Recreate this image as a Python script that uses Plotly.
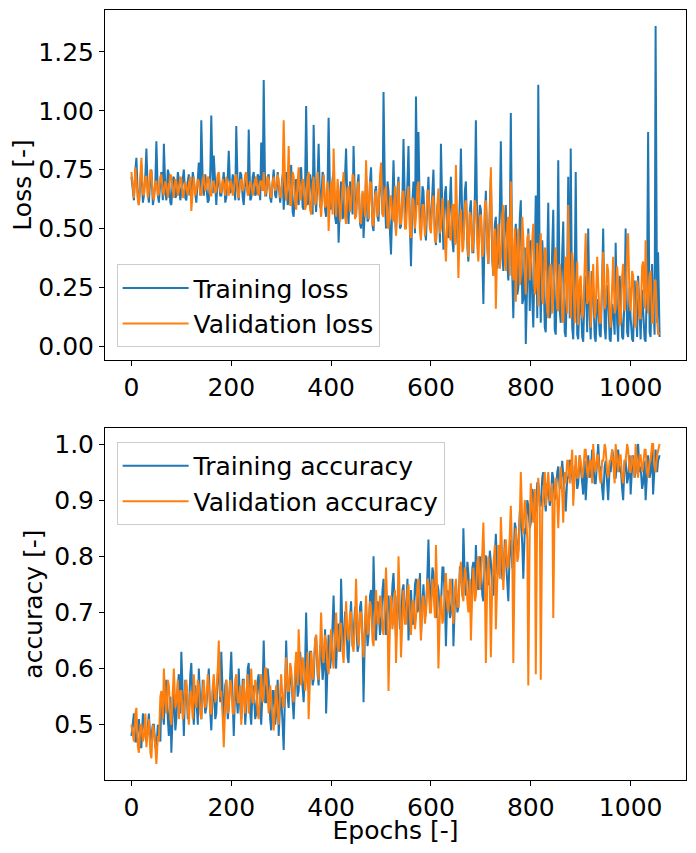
import plotly.graph_objects as go
from plotly.subplots import make_subplots

epochs = sorted(list(range(0, 1060, 5)) + list(range(3, 1060, 5)))

train_loss = [
    0.72, 0.66, 0.62, 0.75, 0.80, 0.63, 0.60, 0.70, 0.77, 0.61, 0.64, 0.73, 0.84, 0.65, 0.61, 0.72, 0.75, 0.60, 0.63, 0.70,
    0.87, 0.64, 0.61, 0.70, 0.74, 0.62, 0.86, 0.66, 0.62, 0.75, 0.73, 0.61, 0.60, 0.71, 0.72, 0.63, 0.64, 0.74, 0.71, 0.62,
    0.66, 0.72, 0.75, 0.63, 0.62, 0.70, 0.73, 0.64, 0.65, 0.74, 0.70, 0.62, 0.61, 0.71, 0.78, 0.64, 0.96, 0.68, 0.64, 0.73,
    0.67, 0.61, 0.62, 0.74, 0.98, 0.65, 0.81, 0.63, 0.60, 0.72, 0.72, 0.64, 0.64, 0.70, 0.74, 0.61, 0.63, 0.72, 0.83, 0.65,
    0.66, 0.73, 0.70, 0.62, 0.935, 0.66, 0.62, 0.74, 0.73, 0.63, 0.60, 0.71, 0.71, 0.65, 0.92, 0.62, 0.63, 0.72, 0.74, 0.64,
    0.65, 0.73, 0.72, 0.62, 0.865, 0.66, 1.13, 0.64, 0.64, 0.72, 0.73, 0.63, 0.61, 0.70, 0.75, 0.64, 0.63, 0.74, 0.70, 0.61,
    0.66, 0.73, 0.58, 0.70, 0.74, 0.60, 0.62, 0.72, 0.77, 0.57, 0.55, 0.68, 0.71, 0.62, 0.60, 0.75, 0.76, 0.59, 0.58, 0.70,
    1.02, 0.60, 0.62, 0.73, 0.70, 0.56, 0.94, 0.64, 0.57, 0.72, 0.86, 0.59, 0.60, 0.74, 0.72, 0.58, 0.55, 0.69, 0.97, 0.62,
    0.58, 0.71, 0.74, 0.55, 0.52, 0.66, 0.44, 0.62, 0.70, 0.54, 0.56, 0.73, 0.84, 0.58, 0.52, 0.70, 0.68, 0.56, 0.85, 0.60,
    0.55, 0.69, 0.73, 0.52, 0.50, 0.65, 0.46, 0.60, 0.72, 0.53, 0.54, 0.70, 0.76, 0.51, 0.49, 0.66, 0.68, 0.55, 0.53, 0.71,
    0.74, 0.56, 1.08, 0.62, 0.50, 0.70, 0.66, 0.48, 0.39, 0.63, 0.79, 0.55, 0.48, 0.67, 0.72, 0.50, 0.51, 0.64, 0.88, 0.58,
    0.55, 0.70, 0.85, 0.50, 0.34, 0.62, 0.70, 0.48, 1.06, 0.60, 0.91, 0.52, 0.47, 0.68, 0.66, 0.49, 0.45, 0.63, 0.72, 0.50,
    0.52, 0.66, 0.75, 0.47, 0.43, 0.60, 0.62, 0.44, 0.86, 0.56, 0.41, 0.65, 0.68, 0.48, 0.46, 0.62, 0.72, 0.45, 0.40, 0.58,
    0.60, 0.44, 0.42, 0.63, 0.84, 0.50, 0.45, 0.66, 0.70, 0.42, 0.36, 0.58, 0.62, 0.40, 0.40, 0.64, 0.96, 0.45, 0.47, 0.60,
    0.58, 0.38, 0.18, 0.55, 0.66, 0.42, 0.35, 0.60, 0.72, 0.36, 0.30, 0.52, 0.55, 0.33, 0.37, 0.58, 0.87, 0.40, 0.32, 0.55,
    0.60, 0.35, 0.28, 0.50, 0.99, 0.30, 0.12, 0.45, 0.52, 0.22, 0.25, 0.55, 0.62, 0.18, 0.20, 0.42, 0.01, 0.30, 0.50, 0.15,
    0.45, 0.20, 0.08, 0.40, 0.64, 0.12, 1.11, 0.30, 0.10, 0.45, 0.35, 0.08, 0.06, 0.38, 0.61, 0.12, 0.15, 0.42, 0.58, 0.07,
    0.05, 0.35, 0.79, 0.15, 0.10, 0.40, 0.53, 0.06, 0.04, 0.30, 0.72, 0.12, 0.84, 0.08, 0.03, 0.28, 0.74, 0.05, 0.03, 0.22,
    0.20, 0.04, 0.02, 0.25, 0.30, 0.06, 0.50, 0.12, 0.03, 0.32, 0.25, 0.04, 0.02, 0.20, 0.18, 0.05, 0.04, 0.28, 0.50, 0.08,
    0.03, 0.26, 0.22, 0.03, 0.02, 0.18, 0.15, 0.05, 0.44, 0.10, 0.02, 0.30, 0.20, 0.04, 0.03, 0.22, 0.50, 0.06, 0.04, 0.25,
    0.12, 0.03, 0.02, 0.28, 0.18, 0.04, 0.30, 0.08, 0.03, 0.24, 0.15, 0.03, 0.02, 0.30, 0.91, 0.06, 0.04, 0.35, 0.20, 0.05,
    1.36, 0.10, 0.40, 0.04,
]

val_loss = [
    0.74, 0.66, 0.63, 0.76, 0.70, 0.62, 0.60, 0.71, 0.80, 0.65, 0.64, 0.72, 0.72, 0.63, 0.66, 0.75, 0.74, 0.64, 0.62, 0.70,
    0.70, 0.64, 0.65, 0.72, 0.73, 0.66, 0.64, 0.70, 0.69, 0.63, 0.67, 0.73, 0.72, 0.65, 0.63, 0.71, 0.70, 0.64, 0.66, 0.72,
    0.71, 0.63, 0.65, 0.70, 0.68, 0.64, 0.69, 0.72, 0.575, 0.66, 0.72, 0.64, 0.66, 0.71, 0.70, 0.65, 0.64, 0.70, 0.73, 0.66,
    0.67, 0.72, 0.71, 0.64, 0.64, 0.70, 0.70, 0.65, 0.66, 0.73, 0.74, 0.66, 0.65, 0.71, 0.69, 0.64, 0.72, 0.67, 0.64, 0.70,
    0.70, 0.64, 0.66, 0.72, 0.73, 0.65, 0.63, 0.70, 0.71, 0.66, 0.67, 0.73, 0.74, 0.64, 0.65, 0.70, 0.69, 0.64, 0.66, 0.71,
    0.72, 0.65, 0.64, 0.70, 0.70, 0.66, 0.74, 0.64, 0.66, 0.72, 0.71, 0.65, 0.63, 0.70, 0.72, 0.66, 0.67, 0.73, 0.70, 0.63,
    0.64, 0.72, 0.96, 0.66, 0.62, 0.70, 0.85, 0.60, 0.60, 0.74, 0.72, 0.61, 0.58, 0.70, 0.76, 0.62, 0.63, 0.71, 0.70, 0.58,
    0.60, 0.72, 0.74, 0.58, 0.56, 0.68, 0.72, 0.60, 0.62, 0.74, 0.68, 0.57, 0.55, 0.66, 0.73, 0.59, 0.60, 0.70, 0.49, 0.64,
    0.70, 0.56, 0.84, 0.62, 0.55, 0.71, 0.66, 0.53, 0.58, 0.68, 0.74, 0.55, 0.52, 0.67, 0.68, 0.57, 0.60, 0.73, 0.72, 0.54,
    0.56, 0.68, 0.70, 0.53, 0.52, 0.66, 0.64, 0.55, 0.79, 0.60, 0.54, 0.70, 0.69, 0.52, 0.51, 0.64, 0.66, 0.55, 0.58, 0.72,
    0.78, 0.56, 0.55, 0.66, 0.68, 0.51, 0.50, 0.63, 0.64, 0.54, 0.53, 0.68, 0.47, 0.60, 0.70, 0.52, 0.52, 0.65, 0.66, 0.50,
    0.50, 0.64, 0.68, 0.48, 0.46, 0.63, 0.62, 0.50, 0.55, 0.68, 0.70, 0.49, 0.45, 0.60, 0.60, 0.47, 0.52, 0.66, 0.66, 0.50,
    0.48, 0.62, 0.64, 0.45, 0.44, 0.60, 0.67, 0.48, 0.50, 0.63, 0.58, 0.44, 0.36, 0.56, 0.62, 0.46, 0.45, 0.60, 0.60, 0.43,
    0.77, 0.50, 0.29, 0.54, 0.58, 0.40, 0.42, 0.60, 0.62, 0.45, 0.38, 0.57, 0.55, 0.40, 0.44, 0.62, 0.60, 0.42, 0.36, 0.55,
    0.56, 0.38, 0.40, 0.60, 0.62, 0.42, 0.35, 0.55, 0.76, 0.40, 0.30, 0.50, 0.16, 0.45, 0.52, 0.33, 0.38, 0.56, 0.60, 0.36,
    0.32, 0.52, 0.55, 0.30, 0.70, 0.40, 0.28, 0.50, 0.19, 0.42, 0.50, 0.26, 0.30, 0.55, 0.45, 0.25, 0.22, 0.46, 0.48, 0.28,
    0.35, 0.50, 0.52, 0.22, 0.25, 0.44, 0.17, 0.40, 0.48, 0.20, 0.18, 0.42, 0.40, 0.15, 0.12, 0.33, 0.35, 0.14, 0.20, 0.38,
    0.42, 0.16, 0.15, 0.35, 0.30, 0.12, 0.10, 0.32, 0.38, 0.14, 0.60, 0.25, 0.12, 0.40, 0.35, 0.10, 0.20, 0.36, 0.09, 0.28,
    0.30, 0.12, 0.14, 0.34, 0.48, 0.18, 0.20, 0.32, 0.08, 0.26, 0.35, 0.12, 0.15, 0.38, 0.28, 0.10, 0.10, 0.30, 0.40, 0.16,
    0.18, 0.35, 0.32, 0.12, 0.08, 0.26, 0.38, 0.14, 0.16, 0.34, 0.27, 0.09, 0.10, 0.30, 0.35, 0.15, 0.20, 0.40, 0.48, 0.18,
    0.15, 0.32, 0.30, 0.10, 0.08, 0.28, 0.25, 0.12, 0.12, 0.34, 0.36, 0.16, 0.45, 0.20, 0.14, 0.30, 0.32, 0.10, 0.10, 0.28,
    0.28, 0.12, 0.05, 0.06,
]

train_acc = [
    0.48, 0.51, 0.52, 0.47, 0.47, 0.50, 0.51, 0.46, 0.46, 0.52, 0.50, 0.48, 0.47, 0.51, 0.52, 0.47, 0.48, 0.50, 0.50, 0.46,
    0.46, 0.50, 0.49, 0.47, 0.55, 0.52, 0.50, 0.57, 0.58, 0.51, 0.48, 0.55, 0.45, 0.53, 0.56, 0.49, 0.51, 0.57, 0.59, 0.52,
    0.63, 0.55, 0.48, 0.58, 0.57, 0.51, 0.52, 0.59, 0.61, 0.53, 0.50, 0.57, 0.55, 0.50, 0.60, 0.54, 0.51, 0.58, 0.56, 0.52,
    0.53, 0.58, 0.60, 0.52, 0.49, 0.56, 0.57, 0.51, 0.52, 0.59, 0.61, 0.54, 0.63, 0.55, 0.50, 0.57, 0.58, 0.51, 0.53, 0.59,
    0.63, 0.54, 0.48, 0.57, 0.56, 0.52, 0.60, 0.53, 0.51, 0.58, 0.58, 0.50, 0.53, 0.60, 0.61, 0.52, 0.50, 0.57, 0.56, 0.51,
    0.52, 0.58, 0.59, 0.53, 0.50, 0.57, 0.65, 0.54, 0.54, 0.60, 0.58, 0.51, 0.49, 0.56, 0.56, 0.50, 0.52, 0.58, 0.48, 0.54,
    0.55, 0.50, 0.455, 0.57, 0.65, 0.55, 0.53, 0.60, 0.59, 0.54, 0.51, 0.58, 0.62, 0.55, 0.56, 0.63, 0.60, 0.55, 0.54, 0.61,
    0.70, 0.58, 0.56, 0.63, 0.63, 0.57, 0.58, 0.65, 0.66, 0.59, 0.57, 0.64, 0.64, 0.58, 0.60, 0.67, 0.52, 0.61, 0.66, 0.60,
    0.62, 0.68, 0.73, 0.62, 0.60, 0.67, 0.68, 0.63, 0.76, 0.66, 0.63, 0.70, 0.70, 0.62, 0.61, 0.69, 0.72, 0.64, 0.66, 0.71,
    0.69, 0.63, 0.64, 0.71, 0.72, 0.65, 0.54, 0.68, 0.70, 0.64, 0.66, 0.73, 0.74, 0.67, 0.80, 0.69, 0.65, 0.72, 0.71, 0.66,
    0.68, 0.74, 0.76, 0.69, 0.66, 0.72, 0.73, 0.67, 0.69, 0.75, 0.77, 0.70, 0.65, 0.73, 0.72, 0.67, 0.68, 0.74, 0.75, 0.69,
    0.70, 0.76, 0.65, 0.71, 0.74, 0.68, 0.68, 0.75, 0.76, 0.70, 0.71, 0.77, 0.66, 0.72, 0.75, 0.69, 0.70, 0.77, 0.83, 0.72,
    0.72, 0.78, 0.77, 0.71, 0.69, 0.75, 0.74, 0.70, 0.71, 0.78, 0.78, 0.72, 0.64, 0.74, 0.73, 0.69, 0.70, 0.76, 0.64, 0.72,
    0.75, 0.70, 0.71, 0.78, 0.78, 0.73, 0.85, 0.75, 0.73, 0.79, 0.77, 0.72, 0.70, 0.78, 0.79, 0.74, 0.82, 0.75, 0.74, 0.80,
    0.78, 0.73, 0.72, 0.80, 0.80, 0.75, 0.75, 0.81, 0.79, 0.74, 0.73, 0.80, 0.84, 0.77, 0.77, 0.82, 0.81, 0.76, 0.76, 0.83,
    0.80, 0.76, 0.72, 0.82, 0.83, 0.78, 0.78, 0.86, 0.85, 0.80, 0.81, 0.88, 0.87, 0.82, 0.76, 0.85, 0.84, 0.90, 0.89, 0.85,
    0.86, 0.92, 0.91, 0.87, 0.88, 0.93, 0.93, 0.89, 0.89, 0.94, 0.95, 0.90, 0.88, 0.93, 0.92, 0.89, 0.90, 0.95, 0.94, 0.90,
    0.91, 0.95, 0.96, 0.92, 0.93, 0.97, 0.95, 0.91, 0.88, 0.94, 0.94, 0.97, 0.97, 0.93, 0.92, 0.96, 0.96, 0.92, 0.93, 0.98,
    0.96, 0.93, 0.91, 0.97, 0.90, 0.95, 0.98, 0.94, 0.95, 0.99, 0.97, 0.93, 0.93, 0.97, 1.00, 0.95, 0.96, 0.92, 0.90, 0.96,
    0.97, 0.93, 0.90, 0.96, 0.95, 0.99, 0.98, 0.94, 0.94, 0.97, 0.99, 0.95, 0.96, 0.92, 0.90, 0.97, 0.97, 0.93, 0.94, 0.98,
    0.91, 0.96, 0.98, 0.94, 0.95, 0.99, 1.00, 0.95, 0.96, 0.92, 0.93, 0.97, 0.90, 0.95, 0.98, 0.94, 0.95, 0.99, 0.91, 0.96,
    0.99, 0.95, 0.97, 0.98,
]

val_acc = [
    0.50, 0.48, 0.47, 0.52, 0.53, 0.46, 0.45, 0.50, 0.50, 0.47, 0.48, 0.52, 0.46, 0.49, 0.51, 0.45, 0.44, 0.50, 0.49, 0.46,
    0.43, 0.48, 0.47, 0.55, 0.56, 0.51, 0.60, 0.54, 0.52, 0.58, 0.57, 0.51, 0.50, 0.56, 0.60, 0.53, 0.54, 0.58, 0.51, 0.56,
    0.56, 0.51, 0.52, 0.57, 0.58, 0.53, 0.50, 0.56, 0.55, 0.51, 0.59, 0.54, 0.53, 0.58, 0.57, 0.52, 0.51, 0.56, 0.58, 0.53,
    0.54, 0.59, 0.57, 0.52, 0.52, 0.57, 0.59, 0.54, 0.55, 0.60, 0.65, 0.55, 0.56, 0.51, 0.46, 0.54, 0.58, 0.52, 0.53, 0.58,
    0.57, 0.52, 0.52, 0.58, 0.59, 0.54, 0.54, 0.57, 0.50, 0.55, 0.58, 0.52, 0.55, 0.59, 0.52, 0.56, 0.60, 0.54, 0.54, 0.58,
    0.57, 0.52, 0.51, 0.56, 0.59, 0.54, 0.55, 0.60, 0.60, 0.55, 0.52, 0.57, 0.55, 0.51, 0.49, 0.54, 0.57, 0.52, 0.50, 0.56,
    0.59, 0.54, 0.53, 0.58, 0.62, 0.56, 0.56, 0.61, 0.60, 0.55, 0.54, 0.60, 0.63, 0.57, 0.67, 0.60, 0.57, 0.62, 0.61, 0.56,
    0.58, 0.63, 0.51, 0.59, 0.63, 0.58, 0.60, 0.65, 0.66, 0.60, 0.58, 0.64, 0.70, 0.62, 0.61, 0.66, 0.65, 0.60, 0.59, 0.64,
    0.67, 0.62, 0.60, 0.66, 0.70, 0.64, 0.63, 0.68, 0.68, 0.63, 0.61, 0.67, 0.72, 0.66, 0.65, 0.70, 0.70, 0.64, 0.63, 0.69,
    0.76, 0.66, 0.64, 0.70, 0.70, 0.65, 0.62, 0.69, 0.73, 0.66, 0.67, 0.72, 0.71, 0.65, 0.64, 0.70, 0.74, 0.68, 0.68, 0.73,
    0.72, 0.67, 0.66, 0.72, 0.78, 0.70, 0.56, 0.68, 0.73, 0.67, 0.69, 0.74, 0.61, 0.70, 0.80, 0.71, 0.62, 0.69, 0.74, 0.68,
    0.68, 0.74, 0.75, 0.69, 0.66, 0.72, 0.72, 0.67, 0.69, 0.75, 0.76, 0.70, 0.65, 0.72, 0.73, 0.68, 0.70, 0.76, 0.75, 0.70,
    0.70, 0.76, 0.74, 0.69, 0.82, 0.72, 0.60, 0.70, 0.73, 0.68, 0.69, 0.75, 0.77, 0.71, 0.70, 0.76, 0.75, 0.70, 0.68, 0.74,
    0.76, 0.71, 0.71, 0.77, 0.79, 0.73, 0.72, 0.78, 0.77, 0.72, 0.70, 0.76, 0.65, 0.74, 0.78, 0.72, 0.73, 0.79, 0.80, 0.74,
    0.76, 0.81, 0.86, 0.75, 0.61, 0.77, 0.80, 0.74, 0.62, 0.76, 0.78, 0.82, 0.67, 0.79, 0.82, 0.76, 0.87, 0.80, 0.74, 0.81,
    0.83, 0.78, 0.78, 0.84, 0.89, 0.80, 0.61, 0.82, 0.85, 0.79, 0.80, 0.87, 0.95, 0.86, 0.84, 0.90, 0.88, 0.83, 0.57, 0.86,
    0.93, 0.88, 0.86, 0.92, 0.59, 0.90, 0.94, 0.89, 0.58, 0.88, 0.92, 0.95, 0.89, 0.94, 0.95, 0.90, 0.90, 0.93, 0.69, 0.91,
    0.94, 0.90, 0.85, 0.93, 0.96, 0.91, 0.86, 0.95, 0.93, 0.97, 0.97, 0.93, 0.95, 0.99, 0.89, 0.95, 0.98, 0.94, 0.94, 0.98,
    0.97, 0.94, 0.95, 0.99, 0.99, 0.95, 0.94, 0.97, 0.97, 0.93, 1.00, 0.96, 0.95, 0.98, 0.98, 0.94, 0.93, 0.97, 0.97, 1.00,
    0.99, 0.95, 0.94, 0.97, 0.97, 0.99, 0.96, 0.93, 1.00, 0.96, 0.95, 0.98, 0.98, 0.94, 0.93, 0.97, 0.97, 1.00, 0.99, 0.95,
    0.95, 0.98, 0.97, 0.94, 1.00, 0.96, 0.94, 0.98, 0.98, 0.95, 0.96, 0.99, 0.99, 0.95, 0.94, 0.97, 0.97, 1.00, 1.00, 0.96,
    0.95, 0.98, 0.99, 1.00,
]

blue = "#1f77b4"
orange = "#ff7f0e"
font_family = "DejaVu Sans"


def padded_range(values, frac=0.05):
    # matplotlib style auto margins
    lo, hi = min(values), max(values)
    span = hi - lo
    return [lo - frac * span, hi + frac * span]


fig = make_subplots(rows=2, cols=1)

fig.add_trace(go.Scatter(x=epochs, y=train_loss, mode="lines", name="Training loss",
                         line=dict(color=blue, width=2), legend="legend"), row=1, col=1)
fig.add_trace(go.Scatter(x=epochs, y=val_loss, mode="lines", name="Validation loss",
                         line=dict(color=orange, width=2), legend="legend"), row=1, col=1)
fig.add_trace(go.Scatter(x=epochs, y=train_acc, mode="lines", name="Training accuracy",
                         line=dict(color=blue, width=2), legend="legend2"), row=2, col=1)
fig.add_trace(go.Scatter(x=epochs, y=val_acc, mode="lines", name="Validation accuracy",
                         line=dict(color=orange, width=2), legend="legend2"), row=2, col=1)

axis_style = dict(showline=True, mirror=True, linecolor="black", linewidth=1,
                  showgrid=False, zeroline=False, ticks="outside", ticklen=5,
                  tickcolor="black", tickfont=dict(size=25, color="black"),
                  title_font=dict(size=25, color="black"), automargin=False)

fig.update_xaxes(**axis_style, range=padded_range(epochs), tickvals=[0, 200, 400, 600, 800, 1000])
fig.update_xaxes(domain=[0, 1], row=1, col=1)
fig.update_xaxes(domain=[0, 1], title_text="Epochs [-]", title_standoff=5, row=2, col=1)

fig.update_yaxes(**axis_style)
fig.update_yaxes(domain=[0.5455, 1.0], range=padded_range(train_loss + val_loss),
                 tickvals=[0, 0.25, 0.5, 0.75, 1.0, 1.25], tickformat=".2f",
                 title_text="Loss [-]", title_standoff=4, row=1, col=1)
fig.update_yaxes(domain=[0.0, 0.4571], range=padded_range(train_acc + val_acc),
                 tickvals=[0.5, 0.6, 0.7, 0.8, 0.9, 1.0], tickformat=".1f",
                 title_text="accuracy [-]", title_standoff=4, row=2, col=1)

legend_style = dict(font=dict(size=25, color="black"), bgcolor="rgba(255,255,255,0.8)",
                    bordercolor="#cccccc", borderwidth=1, xanchor="left", x=0.02,
                    itemwidth=66, tracegroupgap=0)

# figure sized to fit inside the page's default 8px body margin
fig.update_layout(
    width=680,
    height=837,
    margin=dict(l=97, r=2, t=2, b=65),
    font=dict(family=font_family, size=25, color="black"),
    plot_bgcolor="white",
    paper_bgcolor="white",
    legend=dict(**legend_style, yanchor="bottom", y=0.562),
    legend2=dict(**legend_style, yanchor="top", y=0.439),
)

fig.write_html("out.html")
